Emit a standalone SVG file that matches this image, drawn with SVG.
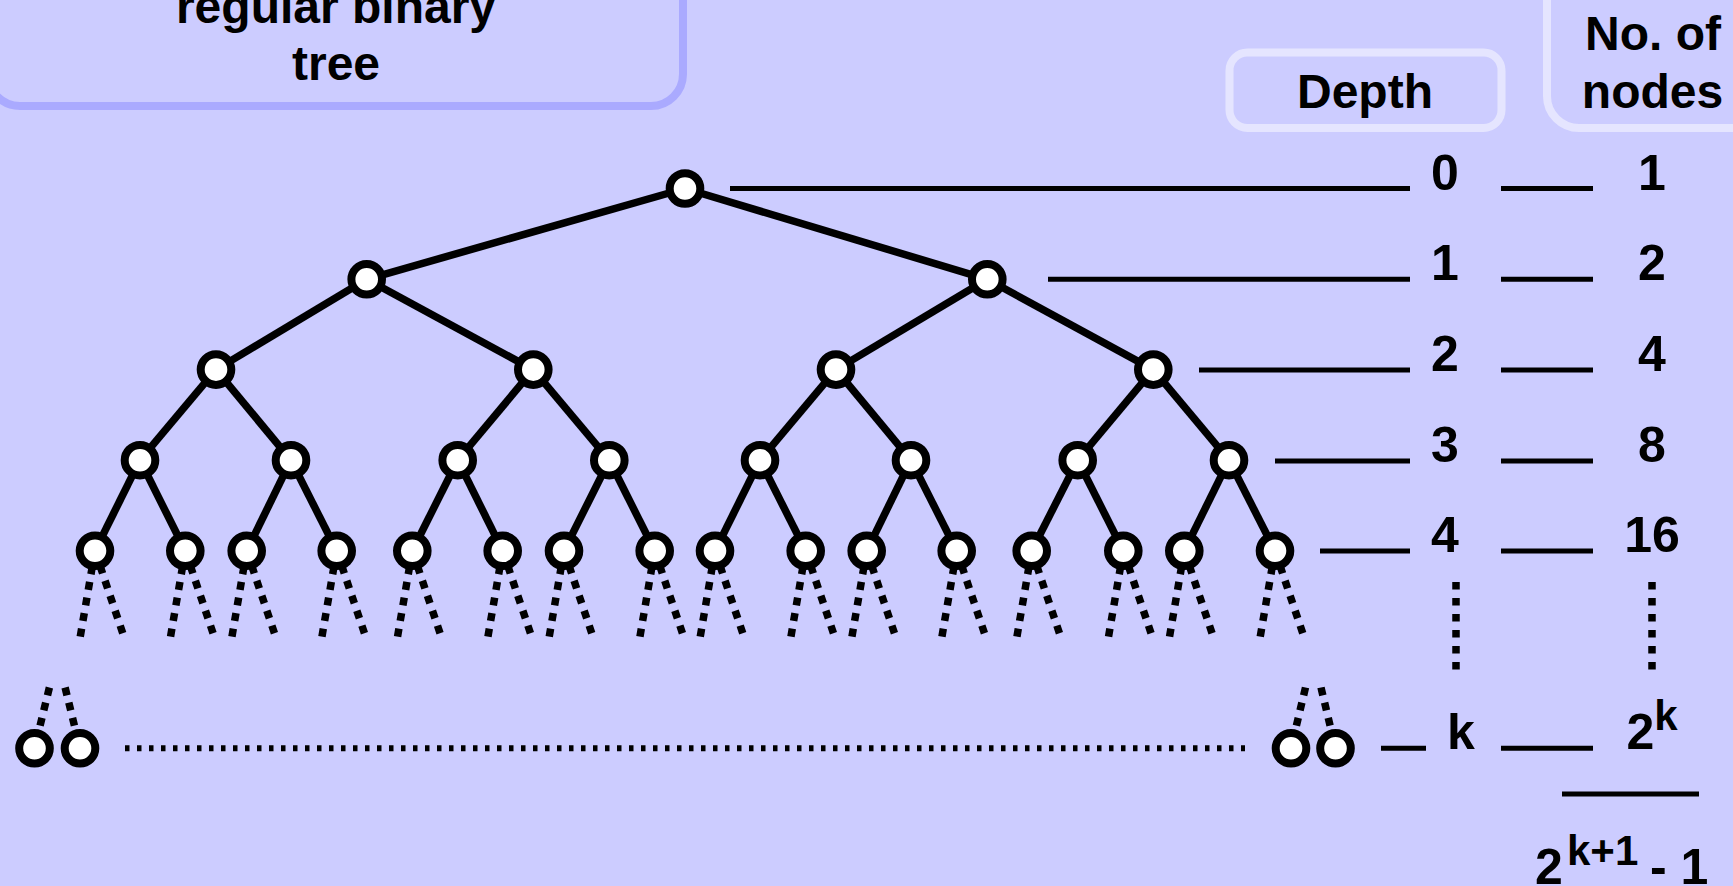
<svg xmlns="http://www.w3.org/2000/svg" width="1733" height="886" viewBox="0 0 1733 886">
<style>
.bg{fill:#ccccff}
.box{fill:#ccccff;stroke:#aaaaff;stroke-width:8}
.hbox{fill:#ccccff;stroke:#e5e5ff;stroke-width:8}
.t{font-family:"Liberation Sans",Arial,sans-serif;font-weight:bold;font-size:50px;fill:#000;text-anchor:middle}
.w{font-size:48px}
.ts{font-family:"Liberation Sans",Arial,sans-serif;font-weight:bold;font-size:50px;fill:#000}
.edge{stroke:#000;stroke-width:7.5;fill:none}
.lvl{stroke:#000;stroke-width:5;fill:none}
.dot{stroke:#000;stroke-width:7.5;stroke-dasharray:8 7.8;fill:none}
.stub{stroke:#000;stroke-width:7.5;stroke-dasharray:8 7.6;fill:none}
.vdot{stroke:#000;stroke-width:7.5;stroke-dasharray:7.5 8.5;fill:none}
.hdot{stroke:#000;stroke-width:6;stroke-dasharray:4.5 7.5;fill:none}
.n{fill:#fff;stroke:#000;stroke-width:8}
</style>
<rect class="bg" x="0" y="0" width="1733" height="886"/>

<g id="title">
<rect class="box" x="-12" y="-80" width="695" height="186" rx="32"/>
<text class="t w" x="336" y="22.5">regular binary</text>
<text class="t w" x="336" y="80">tree</text>
</g>
<g id="depth-header">
<rect class="hbox" x="1229.5" y="52.5" width="272" height="75.5" rx="18"/>
<text class="t w" x="1365" y="108">Depth</text>
</g>
<g id="nodes-header">
<rect class="hbox" x="1547" y="-60" width="240" height="188" rx="32"/>
<text class="t w" x="1653" y="49.5">No. of</text>
<text class="t w" x="1652.5" y="107.5">nodes</text>
</g>

<g id="connectors">
<line class="edge" x1="685" y1="188.5" x2="366.7" y2="279.3"/>
<line class="edge" x1="685" y1="188.5" x2="987.3" y2="279.3"/>
<line class="edge" x1="366.7" y1="279.3" x2="216" y2="369.6"/>
<line class="edge" x1="366.7" y1="279.3" x2="533.3" y2="369.6"/>
<line class="edge" x1="987.3" y1="279.3" x2="836" y2="369.6"/>
<line class="edge" x1="987.3" y1="279.3" x2="1153.3" y2="369.6"/>
<line class="edge" x1="216" y1="369.6" x2="140" y2="460.2"/>
<line class="edge" x1="216" y1="369.6" x2="291" y2="460.2"/>
<line class="edge" x1="533.3" y1="369.6" x2="457.7" y2="460.2"/>
<line class="edge" x1="533.3" y1="369.6" x2="609.3" y2="460.2"/>
<line class="edge" x1="836" y1="369.6" x2="760" y2="460.2"/>
<line class="edge" x1="836" y1="369.6" x2="911" y2="460.2"/>
<line class="edge" x1="1153.3" y1="369.6" x2="1077.7" y2="460.2"/>
<line class="edge" x1="1153.3" y1="369.6" x2="1229" y2="460.2"/>
<line class="edge" x1="140" y1="460.2" x2="95" y2="550.8"/>
<line class="edge" x1="140" y1="460.2" x2="185.3" y2="550.8"/>
<line class="edge" x1="291" y1="460.2" x2="246.7" y2="550.8"/>
<line class="edge" x1="291" y1="460.2" x2="336.7" y2="550.8"/>
<line class="edge" x1="457.7" y1="460.2" x2="412.3" y2="550.8"/>
<line class="edge" x1="457.7" y1="460.2" x2="502.7" y2="550.8"/>
<line class="edge" x1="609.3" y1="460.2" x2="564" y2="550.8"/>
<line class="edge" x1="609.3" y1="460.2" x2="654.7" y2="550.8"/>
<line class="edge" x1="760" y1="460.2" x2="715" y2="550.8"/>
<line class="edge" x1="760" y1="460.2" x2="805.7" y2="550.8"/>
<line class="edge" x1="911" y1="460.2" x2="866.7" y2="550.8"/>
<line class="edge" x1="911" y1="460.2" x2="956.7" y2="550.8"/>
<line class="edge" x1="1077.7" y1="460.2" x2="1031.7" y2="550.8"/>
<line class="edge" x1="1077.7" y1="460.2" x2="1123.3" y2="550.8"/>
<line class="edge" x1="1229" y1="460.2" x2="1184.3" y2="550.8"/>
<line class="edge" x1="1229" y1="460.2" x2="1275" y2="550.8"/>

<line class="dot" x1="95" y1="550.8" x2="80" y2="638"/>
<line class="dot" x1="95" y1="550.8" x2="123.5" y2="635.5"/>
<line class="dot" x1="185.3" y1="550.8" x2="170.3" y2="638"/>
<line class="dot" x1="185.3" y1="550.8" x2="213.8" y2="635.5"/>
<line class="dot" x1="246.7" y1="550.8" x2="231.7" y2="638"/>
<line class="dot" x1="246.7" y1="550.8" x2="275.2" y2="635.5"/>
<line class="dot" x1="336.7" y1="550.8" x2="321.7" y2="638"/>
<line class="dot" x1="336.7" y1="550.8" x2="365.2" y2="635.5"/>
<line class="dot" x1="412.3" y1="550.8" x2="397.3" y2="638"/>
<line class="dot" x1="412.3" y1="550.8" x2="440.8" y2="635.5"/>
<line class="dot" x1="502.7" y1="550.8" x2="487.7" y2="638"/>
<line class="dot" x1="502.7" y1="550.8" x2="531.2" y2="635.5"/>
<line class="dot" x1="564" y1="550.8" x2="549" y2="638"/>
<line class="dot" x1="564" y1="550.8" x2="592.5" y2="635.5"/>
<line class="dot" x1="654.7" y1="550.8" x2="639.7" y2="638"/>
<line class="dot" x1="654.7" y1="550.8" x2="683.2" y2="635.5"/>
<line class="dot" x1="715" y1="550.8" x2="700" y2="638"/>
<line class="dot" x1="715" y1="550.8" x2="743.5" y2="635.5"/>
<line class="dot" x1="805.7" y1="550.8" x2="790.7" y2="638"/>
<line class="dot" x1="805.7" y1="550.8" x2="834.2" y2="635.5"/>
<line class="dot" x1="866.7" y1="550.8" x2="851.7" y2="638"/>
<line class="dot" x1="866.7" y1="550.8" x2="895.2" y2="635.5"/>
<line class="dot" x1="956.7" y1="550.8" x2="941.7" y2="638"/>
<line class="dot" x1="956.7" y1="550.8" x2="985.2" y2="635.5"/>
<line class="dot" x1="1031.7" y1="550.8" x2="1016.7" y2="638"/>
<line class="dot" x1="1031.7" y1="550.8" x2="1060.2" y2="635.5"/>
<line class="dot" x1="1123.3" y1="550.8" x2="1108.3" y2="638"/>
<line class="dot" x1="1123.3" y1="550.8" x2="1151.8" y2="635.5"/>
<line class="dot" x1="1184.3" y1="550.8" x2="1169.3" y2="638"/>
<line class="dot" x1="1184.3" y1="550.8" x2="1212.8" y2="635.5"/>
<line class="dot" x1="1275" y1="550.8" x2="1260" y2="638"/>
<line class="dot" x1="1275" y1="550.8" x2="1303.5" y2="635.5"/>

<line class="stub" x1="49.4" y1="687.5" x2="34.5" y2="748.3"/>
<line class="stub" x1="65.1" y1="687.5" x2="80" y2="748.3"/>
<line class="stub" x1="1305.5" y1="687.5" x2="1291" y2="748.3"/>
<line class="stub" x1="1321" y1="687.5" x2="1335.5" y2="748.3"/>
<line class="hdot" x1="125" y1="748.3" x2="1245" y2="748.3"/>

<line class="lvl" x1="730" y1="188.5" x2="1410" y2="188.5"/>
<line class="lvl" x1="1048" y1="279.3" x2="1410" y2="279.3"/>
<line class="lvl" x1="1199" y1="370" x2="1410" y2="370"/>
<line class="lvl" x1="1275" y1="461" x2="1410" y2="461"/>
<line class="lvl" x1="1320" y1="551" x2="1410" y2="551"/>
<line class="lvl" x1="1381" y1="748.3" x2="1426" y2="748.3"/>
<line class="lvl" x1="1501" y1="188.5" x2="1593" y2="188.5"/>
<line class="lvl" x1="1501" y1="279.3" x2="1593" y2="279.3"/>
<line class="lvl" x1="1501" y1="370" x2="1593" y2="370"/>
<line class="lvl" x1="1501" y1="461" x2="1593" y2="461"/>
<line class="lvl" x1="1501" y1="551" x2="1593" y2="551"/>
<line class="lvl" x1="1501" y1="748.3" x2="1593" y2="748.3"/>
<line class="lvl" x1="1562" y1="794" x2="1699" y2="794"/>
<line class="vdot" x1="1456" y1="582" x2="1456" y2="670"/>
<line class="vdot" x1="1652" y1="582" x2="1652" y2="670"/>
</g>

<g id="n0"><circle class="n" cx="685" cy="188.5" r="15.3"/></g>
<g id="n1a"><circle class="n" cx="366.7" cy="279.3" r="15.3"/></g>
<g id="n1b"><circle class="n" cx="987.3" cy="279.3" r="15.3"/></g>
<g id="n2a"><circle class="n" cx="216" cy="369.6" r="15.3"/></g>
<g id="n2b"><circle class="n" cx="533.3" cy="369.6" r="15.3"/></g>
<g id="n2c"><circle class="n" cx="836" cy="369.6" r="15.3"/></g>
<g id="n2d"><circle class="n" cx="1153.3" cy="369.6" r="15.3"/></g>
<g id="n3a"><circle class="n" cx="140" cy="460.2" r="15.3"/></g>
<g id="n3b"><circle class="n" cx="291" cy="460.2" r="15.3"/></g>
<g id="n3c"><circle class="n" cx="457.7" cy="460.2" r="15.3"/></g>
<g id="n3d"><circle class="n" cx="609.3" cy="460.2" r="15.3"/></g>
<g id="n3e"><circle class="n" cx="760" cy="460.2" r="15.3"/></g>
<g id="n3f"><circle class="n" cx="911" cy="460.2" r="15.3"/></g>
<g id="n3g"><circle class="n" cx="1077.7" cy="460.2" r="15.3"/></g>
<g id="n3h"><circle class="n" cx="1229" cy="460.2" r="15.3"/></g>
<g id="n4a"><circle class="n" cx="95" cy="550.8" r="15.3"/></g>
<g id="n4b"><circle class="n" cx="185.3" cy="550.8" r="15.3"/></g>
<g id="n4c"><circle class="n" cx="246.7" cy="550.8" r="15.3"/></g>
<g id="n4d"><circle class="n" cx="336.7" cy="550.8" r="15.3"/></g>
<g id="n4e"><circle class="n" cx="412.3" cy="550.8" r="15.3"/></g>
<g id="n4f"><circle class="n" cx="502.7" cy="550.8" r="15.3"/></g>
<g id="n4g"><circle class="n" cx="564" cy="550.8" r="15.3"/></g>
<g id="n4h"><circle class="n" cx="654.7" cy="550.8" r="15.3"/></g>
<g id="n4i"><circle class="n" cx="715" cy="550.8" r="15.3"/></g>
<g id="n4j"><circle class="n" cx="805.7" cy="550.8" r="15.3"/></g>
<g id="n4k"><circle class="n" cx="866.7" cy="550.8" r="15.3"/></g>
<g id="n4l"><circle class="n" cx="956.7" cy="550.8" r="15.3"/></g>
<g id="n4m"><circle class="n" cx="1031.7" cy="550.8" r="15.3"/></g>
<g id="n4n"><circle class="n" cx="1123.3" cy="550.8" r="15.3"/></g>
<g id="n4o"><circle class="n" cx="1184.3" cy="550.8" r="15.3"/></g>
<g id="n4p"><circle class="n" cx="1275" cy="550.8" r="15.3"/></g>
<g id="nk1"><circle class="n" cx="34.5" cy="748.3" r="15.3"/></g>
<g id="nk2"><circle class="n" cx="80" cy="748.3" r="15.3"/></g>
<g id="nk3"><circle class="n" cx="1291" cy="748.3" r="15.3"/></g>
<g id="nk4"><circle class="n" cx="1335.5" cy="748.3" r="15.3"/></g>

<g id="depth-labels">
<text class="t" x="1445" y="189.5">0</text>
<text class="t" x="1445" y="280.3">1</text>
<text class="t" x="1445" y="370.8">2</text>
<text class="t" x="1445" y="461.7">3</text>
<text class="t" x="1445" y="552">4</text>
<text class="t" x="1461" y="748.8">k</text>
</g>
<g id="count-labels">
<text class="t" x="1652" y="189.5">1</text>
<text class="t" x="1652" y="280.3">2</text>
<text class="t" x="1652" y="370.8">4</text>
<text class="t" x="1652" y="461.7">8</text>
<text class="t" x="1652" y="552">16</text>
<text class="ts" x="1626.5" y="748.8">2<tspan font-size="42" dy="-18.5">k</tspan></text>
<text class="ts" y="884"><tspan x="1535">2</tspan><tspan x="1567" y="865" font-size="42">k+1</tspan><tspan x="1650" y="884">- 1</tspan></text>
</g>
</svg>
